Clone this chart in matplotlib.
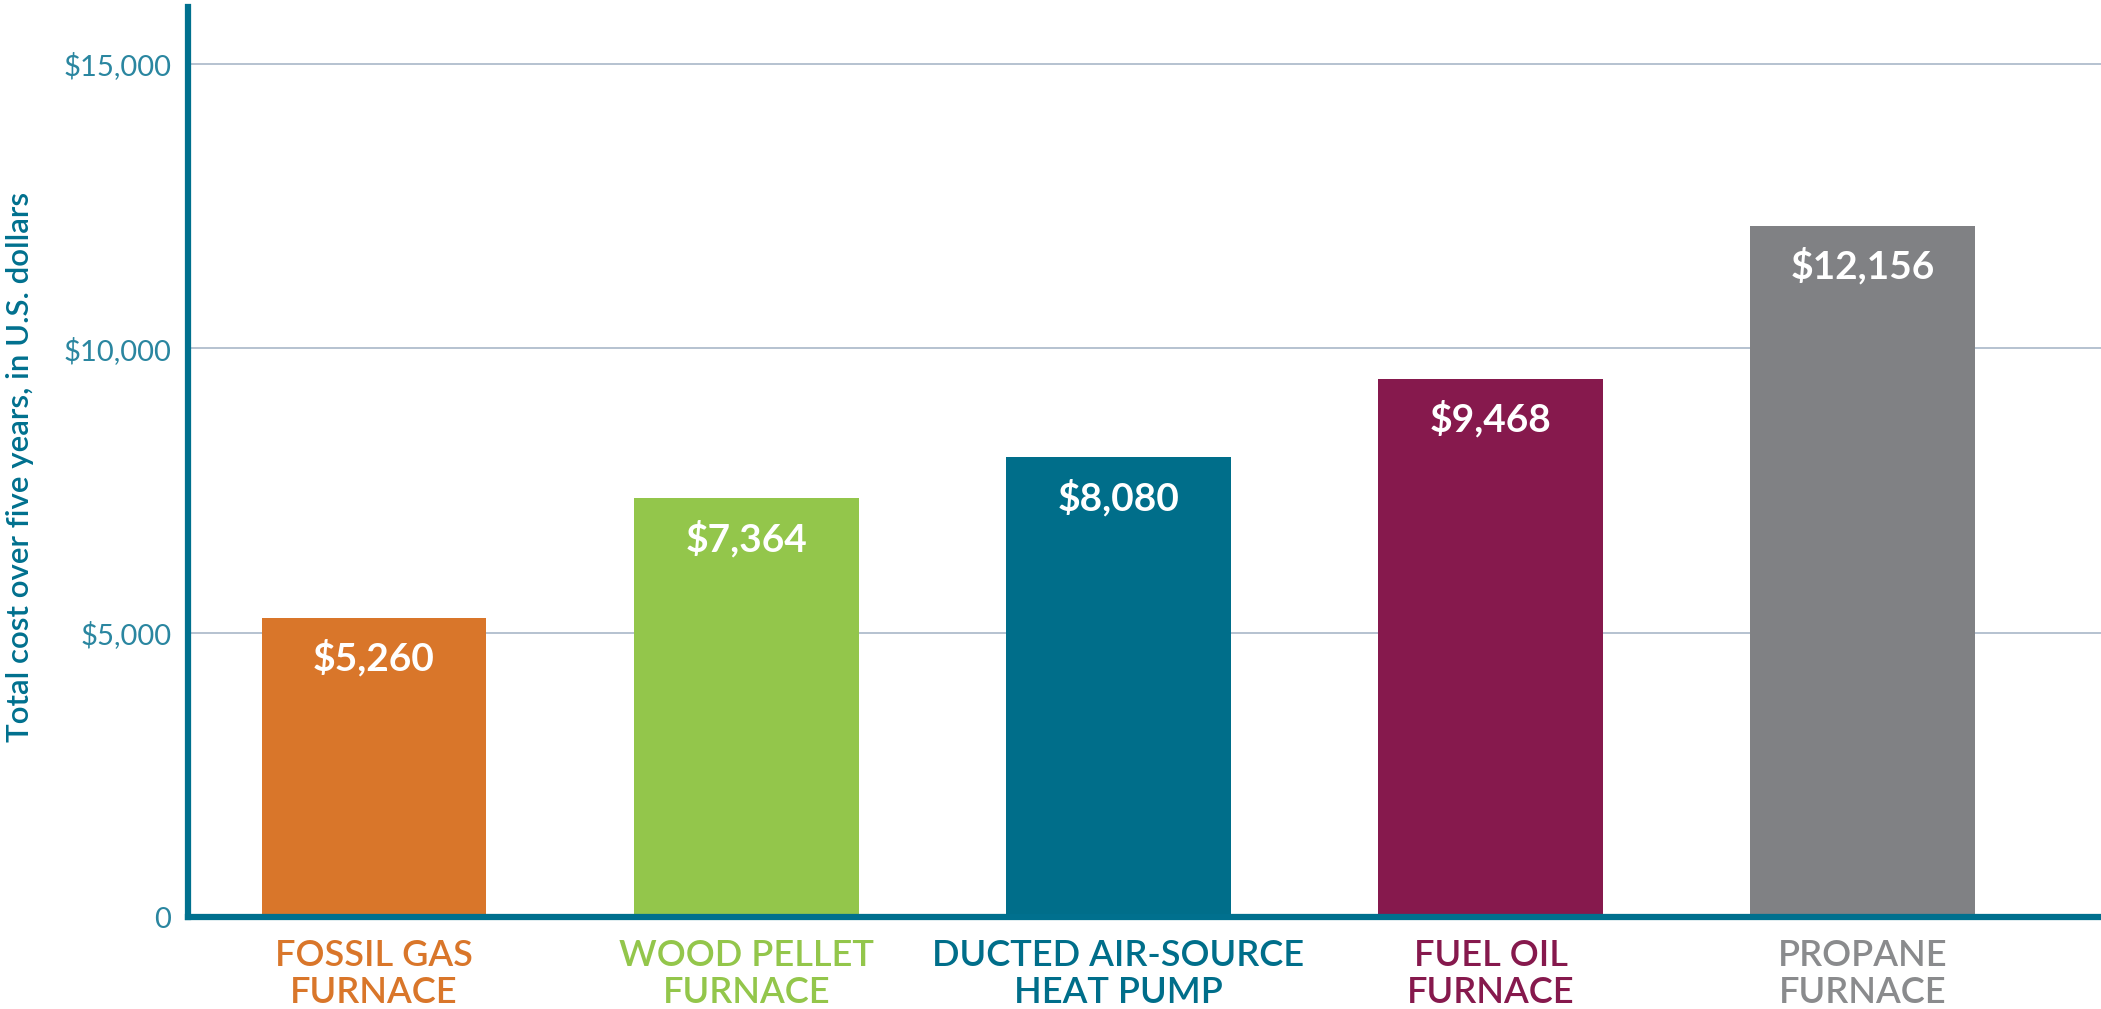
import matplotlib
matplotlib.use("Agg")
import matplotlib.pyplot as plt
from matplotlib.ticker import FuncFormatter

# data
categories = ["FOSSIL GAS\nFURNACE", "WOOD PELLET\nFURNACE", "DUCTED AIR-SOURCE\nHEAT PUMP",
              "FUEL OIL\nFURNACE", "PROPANE\nFURNACE"]
costs = [5260, 7364, 8080, 9468, 12156]
colors = ["#D9762A", "#93C64B", "#006E8A", "#86194D", "#808184"]
label_colors = ["#D9762A", "#93C64B", "#006E8A", "#86194D", "#8A8B8D"]
yticks = [0, 5000, 10000, 15000]

teal = "#00708E"

plt.rcParams['font.family'] = ['Lato', 'DejaVu Sans']

fig = plt.figure(figsize=(21.01, 10.09), dpi=100)
ax = fig.add_axes([188/2101, 92/1009, 1 - 188/2101, 910/1009])

x = range(len(costs))
ax.bar(x, costs, width=0.604, color=colors, zorder=2)

for i, v in enumerate(costs):
    ax.annotate(f"${v:,}", (i, v), xytext=(0, -29), textcoords="offset points",
                ha="center", va="center", color="white", fontsize=28, fontweight="bold")

ax.set_xlim(-0.5, 4.64)
ax.set_ylim(0, 16000)
ax.set_yticks(yticks)
ax.yaxis.set_major_formatter(FuncFormatter(lambda v, p: "0" if v == 0 else f"${v:,.0f}"))
ax.tick_params(axis="y", length=0, pad=12, labelsize=21, labelcolor="#2A86A0")

ax.set_xticks(list(x))
ax.set_xticklabels(categories, fontsize=26, linespacing=1.15)
for t, c in zip(ax.get_xticklabels(), label_colors):
    t.set_color(c)
    t.set_fontweight("semibold")
ax.tick_params(axis="x", length=0, pad=16)

for yv in yticks[1:]:
    ax.axhline(yv, color="#A9B8C8", linewidth=1.2, zorder=1)

for s in ["top", "right"]:
    ax.spines[s].set_visible(False)
for s in ["left", "bottom"]:
    ax.spines[s].set_color(teal)
    ax.spines[s].set_linewidth(4.5)
    ax.spines[s].set_zorder(3)

fig.text(20/2101, 1 - 467/1009, "Total cost over five years, in U.S. dollars",
         rotation=90, ha="center", va="center", fontsize=22.5, color=teal, fontweight="semibold")

fig.savefig("out.png", dpi=100)
